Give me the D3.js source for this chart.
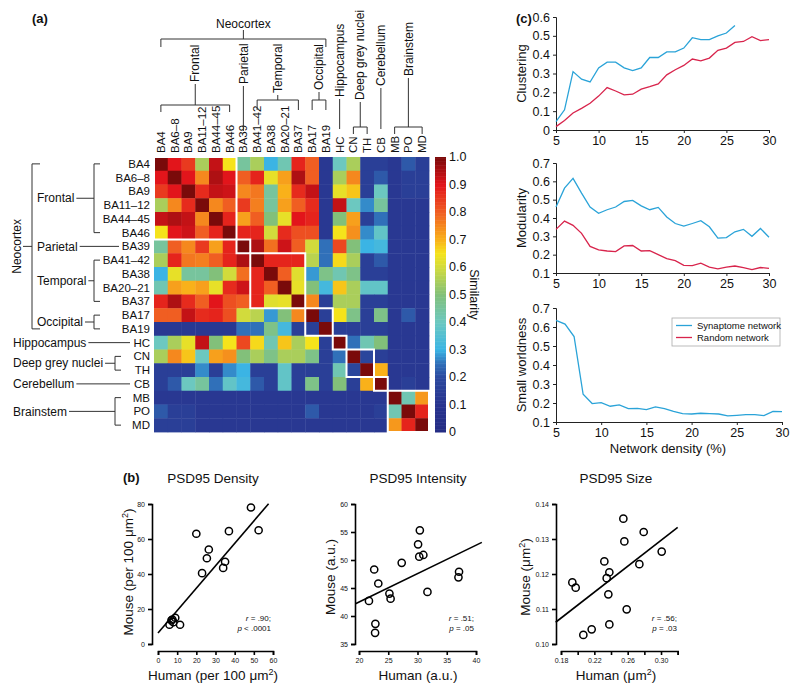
<!DOCTYPE html>
<html><head><meta charset="utf-8">
<script src="https://cdn.jsdelivr.net/npm/d3@7"></script>
<style>body{margin:0;background:#fff} svg{display:block} text{font-family:"Liberation Sans",Arial,sans-serif;fill:#111}</style>
</head><body><svg id="c" width="800" height="693"></svg>
<script>
// ---------- DATA ----------
const regions = ["BA4","BA6–8","BA9","BA11–12","BA44–45","BA46","BA39","BA41–42","BA38","BA20–21","BA37","BA17","BA19","HC","CN","TH","CB","MB","PO","MD"];
const similarity = [
 [1.00,.90,.85,.55,.93,.65,.45,.55,.30,.42,.88,.80,.12,.40,.55,.15,.15,.12,.22,.15],
 [.90,1.00,.90,.75,.95,.90,.80,.88,.63,.72,.95,.80,.12,.55,.75,.15,.22,.12,.15,.15],
 [.85,.90,1.00,.87,.93,.92,.75,.77,.45,.70,.87,.93,.12,.63,.68,.15,.40,.12,.15,.15],
 [.55,.75,.87,1.00,.75,.80,.85,.76,.45,.72,.80,.87,.12,.93,.40,.27,.45,.12,.12,.12],
 [.93,.95,.93,.75,1.00,.88,.72,.80,.50,.63,.90,.88,.12,.50,.72,.15,.25,.12,.12,.12],
 [.65,.90,.92,.80,.88,1.00,.88,.88,.60,.87,.82,.82,.12,.65,.74,.27,.38,.12,.12,.12],
 [.45,.80,.75,.85,.72,.88,1.00,.95,.78,.92,.80,.60,.25,.83,.50,.30,.32,.12,.12,.12],
 [.55,.88,.77,.76,.80,.88,.95,1.00,.88,.88,.88,.57,.25,.66,.55,.15,.22,.12,.12,.12],
 [.30,.63,.45,.45,.50,.60,.78,.88,1.00,.80,.62,.28,.48,.42,.48,.15,.15,.12,.12,.12],
 [.42,.72,.70,.72,.63,.87,.92,.88,.80,1.00,.63,.50,.32,.68,.55,.38,.38,.12,.12,.12],
 [.88,.95,.87,.80,.90,.82,.80,.88,.62,.63,1.00,.75,.15,.55,.55,.15,.15,.12,.12,.12],
 [.80,.80,.93,.87,.88,.82,.60,.57,.28,.50,.75,1.00,.15,.65,.48,.15,.48,.12,.22,.12],
 [.12,.12,.12,.12,.12,.12,.25,.25,.48,.32,.15,.15,1.00,.15,.15,.15,.15,.12,.12,.12],
 [.40,.55,.63,.93,.50,.65,.83,.66,.42,.68,.55,.65,.15,1.00,.25,.42,.50,.12,.12,.12],
 [.55,.75,.68,.40,.72,.74,.50,.55,.48,.55,.55,.48,.15,.25,1.00,.18,.15,.12,.12,.12],
 [.15,.15,.15,.27,.15,.27,.30,.15,.15,.38,.15,.15,.15,.42,.18,1.00,.70,.12,.12,.12],
 [.15,.22,.40,.45,.25,.38,.32,.22,.15,.38,.15,.48,.15,.50,.15,.70,1.00,.12,.15,.12],
 [.12,.12,.12,.12,.12,.12,.12,.12,.12,.12,.12,.12,.12,.12,.12,.12,.12,1.00,.42,.73],
 [.22,.15,.15,.12,.12,.12,.12,.12,.12,.12,.12,.22,.12,.12,.12,.12,.15,.42,1.00,.88],
 [.15,.15,.15,.12,.12,.12,.12,.12,.12,.12,.12,.12,.12,.12,.12,.12,.12,.73,.88,1.00]
];
const blocks = [[0,5],[6,6],[7,10],[11,12],[13,13],[14,15],[16,16],[17,19]];
const colorbarTicks = [0,0.1,0.2,0.3,0.4,0.5,0.6,0.7,0.8,0.9,1.0];

const density = [5,6,7,8,9,10,11,12,13,14,15,16,17,18,19,20,21,22,23,24,25,26,27,28,29,30];
const clusterSyn = [0.044,0.107,0.31,0.27,0.255,0.33,0.36,0.36,0.33,0.315,0.33,0.385,0.385,0.415,0.415,0.435,0.49,0.48,0.48,0.50,0.515,0.555];
const clusterRand = [0.018,0.05,0.09,0.115,0.142,0.18,0.225,0.207,0.187,0.19,0.217,0.23,0.245,0.293,0.32,0.343,0.377,0.367,0.382,0.423,0.435,0.465,0.47,0.495,0.475,0.48];
const modSyn = [0.46,0.563,0.616,0.536,0.46,0.426,0.445,0.46,0.49,0.496,0.466,0.445,0.458,0.406,0.37,0.356,0.37,0.385,0.352,0.29,0.293,0.325,0.338,0.30,0.343,0.295];
const modRand = [0.338,0.383,0.36,0.316,0.245,0.226,0.22,0.217,0.248,0.25,0.22,0.222,0.2,0.178,0.167,0.142,0.14,0.154,0.132,0.123,0.132,0.138,0.129,0.118,0.13,0.125];
const swSyn = [0.635,0.615,0.55,0.246,0.197,0.202,0.183,0.19,0.17,0.172,0.165,0.18,0.17,0.156,0.144,0.142,0.146,0.144,0.142,0.132,0.135,0.139,0.139,0.134,0.156,0.155];

const densHuman = [6,7,8,9,11.5,20,23,25.5,26.5,34,35,37,48.5,52.5,7.5];
const densMouse = [11,13.5,12.5,15,11,63,40.5,49,54,43.5,47,64.5,78,65,14];
const intHuman = [21.7,22.6,22.8,22.75,23.3,25.2,25.4,27.3,30.1,30.4,30.3,31.0,31.7,37.0,37.1];
const intMouse = [42.7,48.3,38.6,37.0,45.8,44.0,43.1,49.5,52.8,55.3,50.6,50.9,44.3,46.9,47.9];
const sizeHuman = [0.1936,0.1976,0.2068,0.2168,0.232,0.2348,0.238,0.2368,0.238,0.2548,0.256,0.2588,0.274,0.2792,0.3008];
const sizeMouse = [0.1176,0.1161,0.1026,0.1042,0.1236,0.1188,0.1205,0.1142,0.1056,0.1358,0.1293,0.1099,0.1228,0.132,0.1264];
// regression fits: [intercept, slope, xStart, xEnd]
const densFit = [6.3, 1.28, 0, 57.7];
const intFit = [32.36, 0.507, 19.4, 41];
const sizeFit = [0.0741, 0.185, 0.1736, 0.32];

// ---------- DRAW ----------
const svg = d3.select("#c");
const FONT = "'Liberation Sans',Arial,sans-serif";
const colScale = d3.scaleLinear()
  .domain([0,0.1,0.2,0.25,0.3,0.4,0.5,0.6,0.65,0.7,0.8,0.9,1.0])
  .range(["#252d84","#28348f","#2c4a9f","#3070b9","#3bb4e4","#6cc8c0","#82c07a","#d2db3c","#f5e31b","#f9b11a","#f05e22","#e2151b","#7a0a0a"])
  .clamp(true);

const HM_TOP = 157, HM_BOT = 432;
const bx = d3.scaleBand().domain(d3.range(20)).range([154,429]);
const by = d3.scaleBand().domain(d3.range(20)).range([HM_TOP,HM_BOT]);
const bw = bx.bandwidth(), bh = by.bandwidth();
const cx = i => bx(i)+bw/2, cy = i => by(i)+bh/2;

const g = svg.append("g");
similarity.forEach((row,i)=>row.forEach((v,j)=>{
  g.append("rect").attr("x",bx(j)).attr("y",by(i)).attr("width",bw+0.4).attr("height",bh+0.4).attr("fill",colScale(v));
}));
blocks.forEach(([a,b])=>{
  g.append("rect").attr("x",bx(a)).attr("y",by(a)).attr("width",bx(b)+bw-bx(a)).attr("height",by(b)+bh-by(a))
   .attr("fill","none").attr("stroke","#fff").attr("stroke-width",2);
});

// colorbar
const cbY = d3.scaleLinear().domain([0,1]).range([HM_BOT,HM_TOP]);
const steps = d3.range(0,1,0.005);
svg.append("g").selectAll("rect").data(steps).join("rect")
  .attr("x",435).attr("width",11).attr("y",d=>cbY(d+0.005)).attr("height",d=>cbY(d)-cbY(d+0.005)+0.5)
  .attr("fill",d=>colScale(d+0.0025));
svg.append("g").selectAll("text").data(colorbarTicks).join("text")
  .attr("x",449).attr("y",d=>cbY(d)).attr("dy","0.35em").attr("font-size",12.5)
  .text(d=>d===0?"0":d.toFixed(1));
svg.append("text").attr("transform",`translate(474,${(HM_TOP+HM_BOT)/2}) rotate(90)`).attr("text-anchor","middle")
  .attr("dy","0.35em").attr("font-size",12.5).text("Similarity");

// labels
const ln = (x1,y1,x2,y2)=>svg.append("line").attr("x1",x1).attr("y1",y1).attr("x2",x2).attr("y2",y2).attr("stroke","#333").attr("stroke-width",1);
const pth = d=>svg.append("path").attr("d",d).attr("fill","none").attr("stroke","#333").attr("stroke-width",1);
const vtext = (x,y,t,fs)=>svg.append("text").attr("transform",`translate(${x},${y}) rotate(-90)`).attr("dy","0.35em").attr("font-size",fs).text(t);

regions.forEach((r,i)=>{
  vtext(cx(i),153,r,11.5);
  svg.append("text").attr("x",150).attr("y",cy(i)).attr("dy","0.35em").attr("text-anchor","end").attr("font-size",11.5).text(r);
});

// top tree
const mid=(a,b)=>(a+b)/2;
let m = mid(cx(0),cx(12));
svg.append("text").attr("x",m).attr("y",24).attr("dy","0.35em").attr("text-anchor","middle").attr("font-size",12).text("Neocortex");
ln(m,30,m,39); pth(`M${cx(0)},47V39H${cx(12)}V47`);
m = mid(cx(0),cx(5)); vtext(m,82,"Frontal",12); ln(m,84,m,105); pth(`M${cx(0)},112V105H${cx(5)}V112`);
vtext(cx(6),84,"Parietal",12); ln(cx(6),86,cx(6),131);
m = mid(cx(7),cx(10)); vtext(m,93,"Temporal",12); ln(m,95,m,100); pth(`M${cx(7)},110V100H${cx(10)}V110`);
m = mid(cx(11),cx(12)); vtext(m,90,"Occipital",12); ln(m,92,m,100); pth(`M${cx(11)},110V100H${cx(12)}V110`);
vtext(cx(13),97,"Hippocampus",12); ln(cx(13),99,cx(13),129);
m = mid(cx(14),cx(15)); vtext(m,100,"Deep grey nuclei",12); ln(m,102,m,127); pth(`M${cx(14)},134V127H${cx(15)}V134`);
vtext(cx(16),86,"Cerebellum",12); ln(cx(16),88,cx(16),129);
vtext(cx(18),76,"Brainstem",12); ln(cx(18),78,cx(18),127); pth(`M${cx(17)},134V127H${cx(19)}V134`);

// left tree
function htext(x,y,t){ const s=svg.append("text").attr("x",x).attr("y",y).attr("dy","0.35em").attr("font-size",12).text(t); return x+s.node().getComputedTextLength(); }
m = mid(cy(0),cy(12));
svg.append("text").attr("transform",`translate(17,${m}) rotate(-90)`).attr("text-anchor","middle").attr("dy","0.35em").attr("font-size",12).text("Neocortex");
ln(23,m,32,m); pth(`M40,${cy(0)}H32V${cy(12)}H40`);
let e;
m = mid(cy(0),cy(5)); e=htext(37,m,"Frontal"); ln(e+2,m,94,m); pth(`M100,${cy(0)}H94V${cy(5)}H100`);
e=htext(37,cy(6),"Parietal"); ln(e+2,cy(6),119,cy(6));
m = mid(cy(7),cy(10)); e=htext(37,m,"Temporal"); ln(e+2,m,94,m); pth(`M100,${cy(7)}H94V${cy(10)}H100`);
m = mid(cy(11),cy(12)); e=htext(37,m,"Occipital"); ln(e+2,m,94,m); pth(`M100,${cy(11)}H94V${cy(12)}H100`);
e=htext(13,cy(13),"Hippocampus"); ln(e+2,cy(13),130,cy(13));
m = mid(cy(14),cy(15)); e=htext(13,m,"Deep grey nuclei"); ln(e+2,m,115,m); pth(`M121,${cy(14)}H115V${cy(15)}H121`);
e=htext(13,cy(16),"Cerebellum"); ln(e+2,cy(16),130,cy(16));
e=htext(13,cy(18),"Brainstem"); ln(e+2,cy(18),115,cy(18)); pth(`M121,${cy(17)}H115V${cy(19)}H121`);

// panel letters
[["(a)",32,18],["(b)",123,477],["(c)",516,18]].forEach(([t,x,y])=>svg.append("text").attr("x",x).attr("y",y).attr("dy","0.35em").attr("font-size",13).attr("font-weight","bold").text(t));

// ---------- panel c ----------
const BLUE="#2aa3d8", RED="#d8244c";
function linePanel(x0,x1,yTop,yBot,ydom,yticks,label,series){
  const x = d3.scaleLinear().domain([5,30]).range([x0,x1]);
  const y = d3.scaleLinear().domain(ydom).range([yBot,yTop]);
  const gg = svg.append("g");
  const ax = gg.append("g").attr("transform",`translate(0,${yBot})`).call(d3.axisBottom(x).tickValues([5,10,15,20,25,30]).tickSize(3).tickPadding(3));
  const ay = gg.append("g").attr("transform",`translate(${x0},0)`).call(d3.axisLeft(y).tickValues(yticks).tickSize(3).tickPadding(3).tickFormat(d=>d===0?"0":d.toFixed(1)));
  [ax,ay].forEach(a=>{a.selectAll("text").attr("font-size",12.5).attr("font-family",FONT).attr("fill","#111"); a.selectAll("path,line").attr("stroke","#222");});
  gg.append("text").attr("transform",`translate(521,${(yTop+yBot)/2}) rotate(-90)`).attr("text-anchor","middle").attr("dy","0.35em").attr("font-size",13).text(label);
  series.forEach(([vals,col])=>{
    gg.append("path").datum(vals).attr("fill","none").attr("stroke",col).attr("stroke-width",1.3)
      .attr("d",d3.line().x((d,i)=>x(density[i])).y(d=>y(d)));
  });
  return {x,y};
}
linePanel(556,769,17,130,[0,0.6],[0,0.1,0.2,0.3,0.4,0.5,0.6],"Clustering",[[clusterRand,RED],[clusterSyn,BLUE]]);
linePanel(556,769,163,273,[0.1,0.7],[0.1,0.2,0.3,0.4,0.5,0.6,0.7],"Modularity",[[modRand,RED],[modSyn,BLUE]]);
linePanel(556,782,308,422,[0.1,0.7],[0.1,0.2,0.3,0.4,0.5,0.6,0.7],"Small worldness",[[swSyn,BLUE]]);
svg.append("text").attr("x",668).attr("y",448).attr("dy","0.35em").attr("text-anchor","middle").attr("font-size",13).text("Network density (%)");
// legend
svg.append("rect").attr("x",672).attr("y",318).attr("width",108).attr("height",28).attr("fill","#fff").attr("stroke","#aaa").attr("stroke-width",0.8);
[["Synaptome network",BLUE,325.5],["Random network",RED,337.5]].forEach(([t,c,yy])=>{
  ln(676,yy,692,yy).attr("stroke",c).attr("stroke-width",1.3);
  svg.append("text").attr("x",697).attr("y",yy).attr("dy","0.35em").attr("font-size",9.5).text(t);
});

// ---------- panel b ----------
function scatter(cfg){
  const x = d3.scaleLinear().domain(cfg.xd).range(cfg.xr);
  const y = d3.scaleLinear().domain(cfg.yd).range([644,504]);
  const gg = svg.append("g");
  const ax = gg.append("g").attr("transform","translate(0,651)")
    .call(d3.axisBottom(x).tickValues(cfg.xt).tickSize(4).tickPadding(3).tickFormat(cfg.xf));
  const ay = gg.append("g").attr("transform",`translate(${cfg.yax},0)`)
    .call(d3.axisLeft(y).tickValues(cfg.yt).tickSize(4).tickPadding(3).tickFormat(cfg.yf));
  [ax,ay].forEach(a=>{a.selectAll("text").attr("font-size",7).attr("font-family",FONT).attr("fill","#222");
    a.selectAll("path,line").attr("stroke","#000").attr("stroke-width",1.6);});
  const [b0,b1,xa,xb] = cfg.fit;
  gg.append("line").attr("x1",x(xa)).attr("y1",y(b0+b1*xa)).attr("x2",x(xb)).attr("y2",y(b0+b1*xb))
    .attr("stroke","#000").attr("stroke-width",1.6);
  gg.selectAll("circle").data(cfg.xs).join("circle").attr("cx",d=>x(d)).attr("cy",(d,i)=>y(cfg.ys[i])).attr("r",3.6)
    .attr("fill","none").attr("stroke","#000").attr("stroke-width",1.5);
  gg.append("text").attr("x",cfg.tx).attr("y",478).attr("dy","0.35em").attr("text-anchor","middle").attr("font-size",13.5).text(cfg.title);
  const xl = gg.append("text").attr("x",cfg.tx).attr("y",675).attr("dy","0.35em").attr("text-anchor","middle").attr("font-size",13.5);
  cfg.xl.forEach(([t,sup])=>xl.append("tspan").attr("font-size",sup?9:13.5).attr("baseline-shift",sup?"super":null).text(t));
  const yl = gg.append("text").attr("transform",`translate(${cfg.ylx},${cfg.yly}) rotate(-90)`).attr("dy","0.35em").attr("text-anchor","middle").attr("font-size",13.5);
  cfg.yl.forEach(([t,sup])=>yl.append("tspan").attr("font-size",sup?9:13.5).attr("baseline-shift",sup?"super":null).text(t));
  cfg.ann.forEach(([it,rest],k)=>{
    const t = gg.append("text").attr("x",cfg.ax).attr("y",618+k*10).attr("dy","0.35em").attr("text-anchor","end").attr("font-size",8);
    t.append("tspan").attr("font-style","italic").text(it); t.append("tspan").text(rest);
  });
}
scatter({xd:[0,60],xr:[158,273],xt:[0,10,20,30,40,50,60],xf:d=>d,yd:[0,80],yt:[0,20,40,60,80],yf:d=>d,yax:152,
  xs:densHuman,ys:densMouse,fit:densFit,title:"PSD95 Density",tx:213,
  xl:[["Human (per 100 μm"],["2",true],[")"]],yl:[["Mouse (per 100 μm"],["2",true],[")"]],ylx:128,yly:572,
  ann:[["r"," = .90;"],["p"," < .0001"]],ax:271});
scatter({xd:[20,40],xr:[359,476],xt:[20,25,30,35,40],xf:d=>d,yd:[35,60],yt:[35,40,45,50,55,60],yf:d=>d,yax:355,
  xs:intHuman,ys:intMouse,fit:intFit,title:"PSD95 Intensity",tx:418,
  xl:[["Human (a.u.)"]],yl:[["Mouse (a.u.)"]],ylx:330,yly:577,
  ann:[["r"," = .51;"],["p"," = .05"]],ax:474});
scatter({xd:[0.18,0.32],xr:[561,677.7],xt:[0.18,0.20,0.22,0.24,0.26,0.28,0.30,0.32],
  xf:d=>[0.18,0.22,0.26,0.30].some(v=>Math.abs(v-d)<1e-6)?d.toFixed(2):"",
  yd:[0.10,0.14],yt:[0.10,0.11,0.12,0.13,0.14],yf:d=>d.toFixed(2),yax:556,
  xs:sizeHuman,ys:sizeMouse,fit:sizeFit,title:"PSD95 Size",tx:616,
  xl:[["Human (μm"],["2",true],[")"]],yl:[["Mouse (μm"],["2",true],[")"]],ylx:525,yly:577,
  ann:[["r"," = .56;"],["p"," = .03"]],ax:677});
</script></body></html>
